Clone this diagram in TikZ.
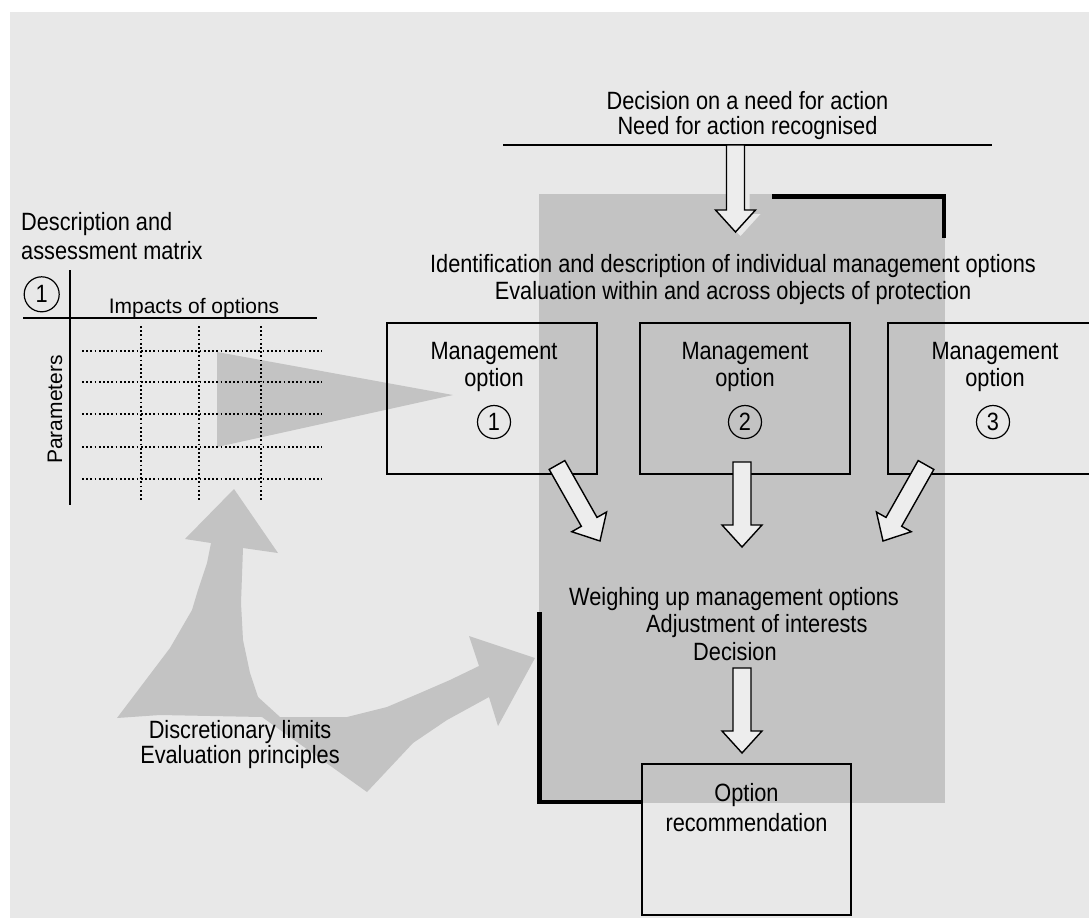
\documentclass[tikz,border=0pt]{standalone}
\usepackage{fontspec}
\setmainfont{Liberation Sans}[FakeStretch=0.87]
\newfontfamily\plainsans{Liberation Sans}
\usetikzlibrary{calc}

\definecolor{canvas}{HTML}{E8E8E8}
\definecolor{panelgray}{HTML}{C3C3C3}
\definecolor{arrowfill}{HTML}{EDEDED}

% body text: 25pt condensed sans, line spacing as argument
\newcommand\bodyfont[1][27]{\fontsize{25}{#1}\selectfont}
\newcommand\smallsans{\plainsans\fontsize{21}{21}\selectfont}

% hollow block arrow from coordinate #2 to tip #3
\newcommand\blockarrow[3][]{%
  \coordinate (#2-neck) at ($(#3)!22pt!(#2)$);
  \path[#1] ($(#2)!9pt!90:(#3)$) -- ($(#2-neck)!9pt!90:(#3)$)
    -- ($(#2-neck)!20pt!90:(#3)$) -- (#3)
    -- ($(#2-neck)!20pt!-90:(#3)$) -- ($(#2-neck)!9pt!-90:(#3)$)
    -- ($(#2)!9pt!-90:(#3)$) -- cycle;}

\begin{document}
\begin{tikzpicture}[x=1pt,y=-1pt,
  txt/.style={font=\bodyfont, align=center, inner sep=0pt},
  optbox/.style={draw, line width=1.4pt, minimum width=210pt, minimum height=151pt, inner sep=0pt},
  numring/.style={circle, draw, line width=1.2pt, minimum size=33pt, inner sep=0pt, font=\bodyfont},
  blockarr/.style={draw=black, fill=arrowfill, line width=1.4pt, line join=miter},
  arrshadow/.style={fill=canvas},
  bracket/.style={line width=4.6pt, line join=miter},
  gridline/.style={line width=1.8pt, dash pattern=on 1.8pt off 2.4pt},
  rule/.style={line width=1.8pt},
  wedge/.style={fill=panelgray}
]
\useasboundingbox (0,0) rectangle (1089,918);
\fill[white] (0,0) rectangle (1089,918);
\fill[canvas] (10,12) rectangle (1089,918);

% shaded process panel
\fill[panelgray] (539,194) rectangle (945,803);

% wedge from the matrix towards option 1
\fill[wedge] (217,352) -- (217,447) -- (453,395) -- cycle;

% forked arrow: discretionary limits feeding matrix and weighing
\fill[wedge] (234,489) -- (278,553) -- (243,548) -- (241,603) -- (243,640)
  -- (250,673) -- (258,697) -- (280,717) -- (347,717) -- (387,707)
  -- (420,693) -- (450,680) -- (479,666) -- (469,636) -- (535,658)
  -- (498,726) -- (489,697) -- (447,720) -- (413,743) -- (367,792)
  -- (262,717) -- (160,715) -- (117,718) -- (170,648) -- (192,610)
  -- (198,590) -- (207,563) -- (211,543) -- (185,539) -- cycle;

% description and assessment matrix
\foreach \gy in {351,382,414,447,479} \draw[gridline] (82,\gy) -- (322,\gy);
\foreach \gx in {141,199,261} \draw[gridline] (\gx,326) -- (\gx,502);
\draw[rule] (70,270) -- (70,505);
\draw[rule] (23,318) -- (317,318);
\node[numring, minimum size=35pt] (mx) at (41.7,294.3) {1};
\node[txt, align=left, anchor=north west, font={\bodyfont[29]}] (mxtitle) at (21,212)
  {Description and\\assessment matrix};
\node[inner sep=0pt, anchor=base, font=\smallsans] (impacts) at (194,313) {Impacts of options};
\node[inner sep=0pt, anchor=base, rotate=90, font=\smallsans] (params) at (62,409.5) {Parameters};

% brackets on the panel corners
\draw[bracket] (772,196.5) -- (944,196.5) -- (944,238);

% option boxes
\node[optbox] (m1) at (492,398.5) {};
\node[optbox] (m2) at (745,398.5) {};
\node[optbox] (m3) at (993,398.5) {};
\node[optbox, minimum width=209pt] (rec) at (746.5,839.5) {};

\coordinate (lbtop) at (539.3,612);
\coordinate (lbcorner) at (539.3,802);
\draw[bracket] (lbtop) -- (lbcorner) -- (lbcorner -| rec.west);

% decision line at the top
\coordinate (ruleL) at (503,145);
\coordinate (ruleR) at (992,145);
\draw[line width=1.2pt] (ruleL) -- (ruleR);

% block arrows
\coordinate (a0s) at (735.5,145);  \coordinate (a0t) at (735.5,232);
\coordinate (a0ss) at (740.5,149); \coordinate (a0st) at (740.5,236);
\blockarrow[arrshadow]{a0ss}{a0st}
\blockarrow[blockarr]{a0s}{a0t}

\coordinate (a1s) at (557,465); \coordinate (a1t) at (600,541);
\coordinate (a2s) at (742,462); \coordinate (a2t) at (742,547);
\coordinate (a3s) at (926,465); \coordinate (a3t) at (883,541);
\coordinate (a4s) at (742,668); \coordinate (a4t) at (742,753);
\blockarrow[blockarr]{a1s}{a1t}
\blockarrow[blockarr]{a2s}{a2t}
\blockarrow[blockarr]{a3s}{a3t}
\blockarrow[blockarr]{a4s}{a4t}

% texts
\node[txt, anchor=north, font={\bodyfont[25]}] (need) at (747.5,91)
  {Decision on a need for action\\Need for action recognised};
\node[txt, anchor=north] (ident) at (733,254)
  {Identification and description of individual management options\\Evaluation within and across objects of protection};

\node[txt, anchor=north] (m1t) at (494,342) {Management\\option};
\node[txt, anchor=north] (m2t) at (745,342) {Management\\option};
\node[txt, anchor=north] (m3t) at (995,342) {Management\\option};
\node[numring] (n1) at (494,422) {1};
\node[numring] (n2) at (745,422) {2};
\node[numring] (n3) at (993,422) {3};

\node[txt, align=left, anchor=north west, font={\bodyfont[27.5]}] (weigh) at (569,587)
  {Weighing up management options\\\hspace*{77pt}Adjustment of interests\\\hspace*{124pt}Decision};

\node[txt, anchor=north, font={\bodyfont[30]}] (rect) at (746.5,783) {Option\\recommendation};

\node[txt, anchor=north, font={\bodyfont[25]}] (limits) at (240,720)
  {Discretionary limits\\Evaluation principles};
\end{tikzpicture}
\end{document}
